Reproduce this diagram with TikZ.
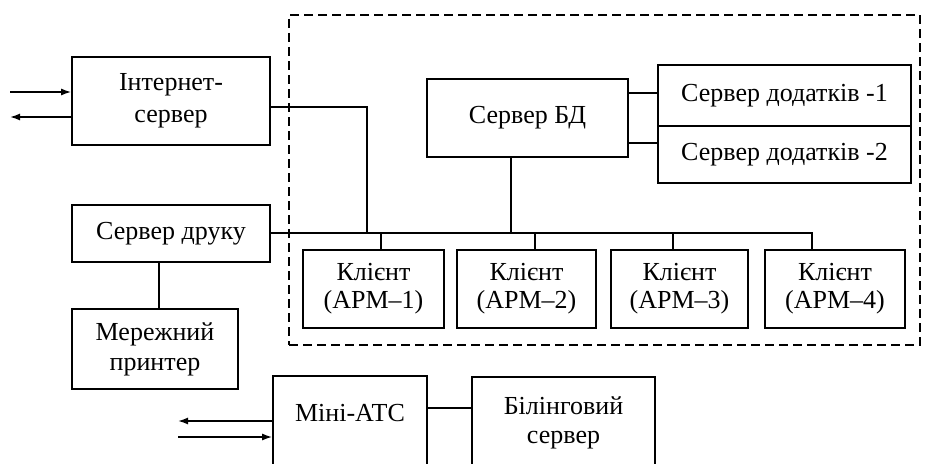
\documentclass[tikz,border=0pt]{standalone}
\usepackage{fontspec}
\setmainfont{Liberation Serif}
\usetikzlibrary{arrows.meta}
\begin{document}
\begin{tikzpicture}[x=1pt,y=-1pt,
  box/.style={draw,line width=1.6pt,inner sep=0pt,align=center,font=\fontsize{26}{30}\selectfont},
  txt/.style={inner sep=0pt,align=center,font=\fontsize{26}{30}\selectfont},
  wire/.style={line width=1.6pt},
  arr/.style={line width=1.6pt,-{Latex[length=10pt,width=7pt]}},
  group/.style={line width=1.6pt,dash pattern=on 9pt off 5pt}]
\useasboundingbox (0,0) rectangle (926,463);
% dashed group
\node[group,draw,minimum width=631pt,minimum height=330pt,inner sep=0pt] (grp) at (604.5,180) {};
% boxes
\node[box,minimum width=198pt,minimum height=88pt,font=\fontsize{26}{32}\selectfont] (inet) at (171,101) {Інтернет-\\сервер};
\node[box,minimum width=201pt,minimum height=78pt] (db) at (527.5,118) {Сервер БД};
\node[box,minimum width=253pt,minimum height=61pt] (app1) at (784.5,95.5) {Сервер додатків -1};
\node[box,minimum width=253pt,minimum height=57pt] (app2) at (784.5,154.5) {Сервер додатків -2};
\node[box,minimum width=198pt,minimum height=57pt] (print) at (171,233.5) {Сервер друку};
\node[box,minimum width=166pt,minimum height=80pt] (printer) at (155,349) {Мережний\\принтер};
\node[box,minimum width=141pt,minimum height=78pt,font=\fontsize{26}{28}\selectfont] (c1) at (373.5,289) {Клієнт\\(АРМ–1)};
\node[box,minimum width=139pt,minimum height=78pt,font=\fontsize{26}{28}\selectfont] (c2) at (526.5,289) {Клієнт\\(АРМ–2)};
\node[box,minimum width=137pt,minimum height=78pt,font=\fontsize{26}{28}\selectfont] (c3) at (679.5,289) {Клієнт\\(АРМ–3)};
\node[box,minimum width=140pt,minimum height=78pt,font=\fontsize{26}{28}\selectfont] (c4) at (835,289) {Клієнт\\(АРМ–4)};
\node[box,minimum width=154pt,minimum height=114pt] (ats) at (350,433) {};
\node[txt] (atsT) at (350,413) {Міні-АТС};
\node[box,minimum width=183pt,minimum height=114pt] (bill) at (563.5,434) {};
\node[txt,font=\fontsize{26}{29}\selectfont] (billT) at (563.5,423) {Білінговий\\сервер};
% junctions
\coordinate (j1) at (367,233);
\coordinate (j2) at (511,233);
\coordinate (d1) at (381,233);
\coordinate (d2) at (535,233);
\coordinate (d3) at (673,233);
\coordinate (d4) at (812,233);
\coordinate (inA) at (10,92);
\coordinate (outA) at (10,117);
\coordinate (inB) at (178,437);
\coordinate (outB) at (178,421);
% connectors
\draw[wire] ([yshift=-6pt]inet.east) -| (j1);
\draw[wire] ([xshift=-16.5pt]db.south) -- (j2);
\draw[wire] (db.east |- 0,93) -- (app1.west |- 0,93);
\draw[wire] (db.east |- 0,143) -- (app2.west |- 0,143);
\draw[wire] (print.east |- 0,233) -- (d4) -- (c4.north -| d4);
\draw[wire] (d1) -- (c1.north -| d1);
\draw[wire] (d2) -- (c2.north -| d2);
\draw[wire] (d3) -- (c3.north -| d3);
\draw[wire] ([xshift=-12pt]print.south) -- ([xshift=4pt]printer.north);
\draw[wire] (ats.east |- 0,408) -- (bill.west |- 0,408);
\draw[arr] (inA) -- (inet.west |- inA);
\draw[arr] (inet.west |- outA) -- (outA);
\draw[arr] (inB) -- (ats.west |- inB);
\draw[arr] (ats.west |- outB) -- (outB);
\end{tikzpicture}
\end{document}
